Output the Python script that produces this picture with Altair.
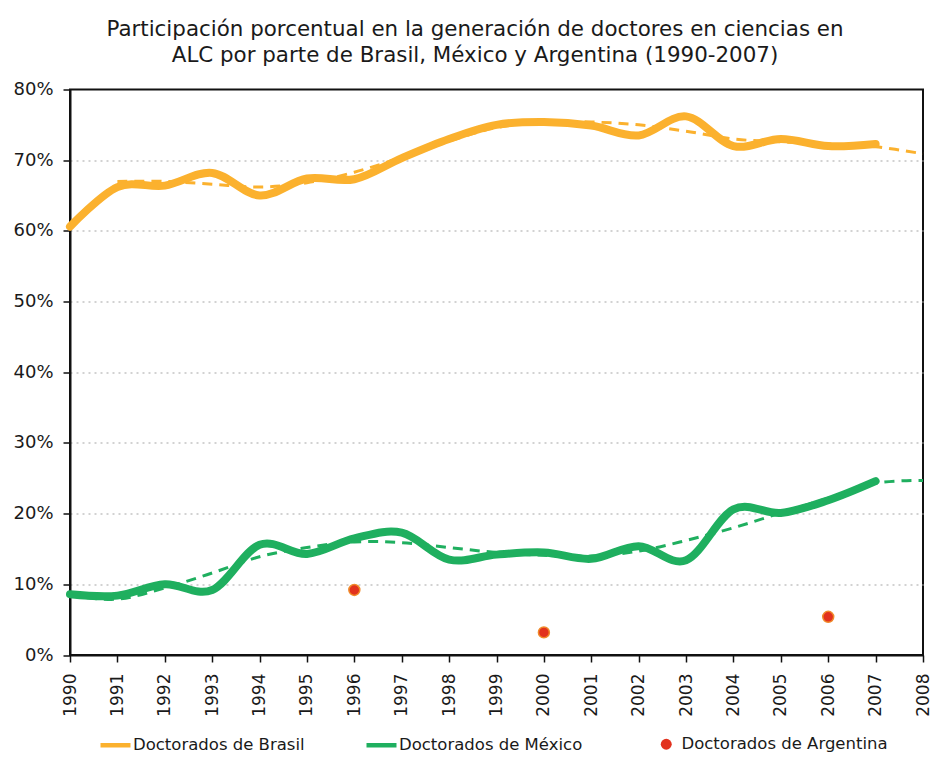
import altair as alt
import pandas as pd

# ---- data ----
years = list(range(1990, 2008))
brasil = [60.6, 66.2, 66.4, 68.2, 65.0, 67.4, 67.3, 70.3, 73.0, 75.0,
          75.4, 74.9, 73.5, 76.2, 72.0, 73.0, 72.0, 72.3]
mexico = [8.6, 8.4, 10.0, 9.2, 15.6, 14.3, 16.5, 17.3, 13.5, 14.2,
          14.5, 13.6, 15.4, 13.4, 20.6, 20.1, 21.9, 24.6]

brasil_trend_years = list(range(1991, 2009))
brasil_trend = [67.0, 67.0, 66.6, 66.2, 66.8, 68.3, 70.4, 72.7, 74.6, 75.4,
                75.4, 75.0, 74.1, 73.0, 72.6, 72.3, 71.9, 70.9]
mexico_trend_years = list(range(1990, 2009))
mexico_trend = [8.4, 7.9, 9.5, 11.6, 13.9, 15.2, 16.0, 15.9, 15.2, 14.5,
                14.1, 14.0, 14.7, 16.2, 18.0, 20.1, 22.2, 24.3, 24.7]

arg_years = [1996, 2000, 2006]
argentina = [9.2, 3.2, 5.4]

S_BR = "Doctorados de Brasil"
S_MX = "Doctorados de México"
S_AR = "Doctorados de Argentina"
line_series = [S_BR, S_MX]
line_colors = ["#FBB12E", "#1FAF5F"]
AR_FILL = "#E2321E"
AR_EDGE = "#F08A2A"

title_lines = [
    "Participación porcentual en la generación de doctores en ciencias en",
    "ALC por parte de Brasil, México y Argentina (1990-2007)",
]
x_ticks = list(range(1990, 2009))
y_ticks = list(range(0, 81, 10))

# ---- tables ----
solid_df = pd.DataFrame({
    "anio": years + years,
    "valor": brasil + mexico,
    "serie": [S_BR] * len(years) + [S_MX] * len(years),
})
trend_df = pd.DataFrame({
    "anio": brasil_trend_years + mexico_trend_years,
    "valor": brasil_trend + mexico_trend,
    "serie": [S_BR] * len(brasil_trend_years) + [S_MX] * len(mexico_trend_years),
})
arg_df = pd.DataFrame({"anio": arg_years, "valor": argentina, "serie": [S_AR] * len(arg_years)})

FONT = "DejaVu Sans"

line_legend = alt.Legend(
    title=None,
    orient="none",
    direction="horizontal",
    legendX=28,
    legendY=638,
    columns=2,
    columnPadding=52,
    padding=0,
    labelFont=FONT,
    labelFontSize=16.5,
    labelColor="#1a1a1a",
    labelOffset=0,
    labelLimit=400,
    symbolType="stroke",
    symbolSize=900,
    symbolStrokeWidth=4.5,
    symbolOpacity=1,
)
dot_legend = alt.Legend(
    title=None,
    orient="none",
    direction="horizontal",
    legendX=588,
    legendY=646.5,
    padding=0,
    labelFont=FONT,
    labelFontSize=16.5,
    labelColor="#1a1a1a",
    labelOffset=7,
    labelLimit=400,
    symbolType="circle",
    symbolSize=120,
    symbolFillColor=AR_FILL,
    symbolStrokeColor=AR_EDGE,
    symbolStrokeWidth=1.5,
    symbolOpacity=1,
)

color = alt.Color("serie:N", scale=alt.Scale(domain=line_series, range=line_colors), legend=line_legend)

x = alt.X(
    "anio:Q",
    title=None,
    scale=alt.Scale(domain=[1990, 2008], nice=False, zero=False),
    axis=alt.Axis(
        values=x_ticks, format="d", labelAngle=-90, grid=False,
        tickSize=7, tickColor="#111", tickWidth=1.5,
        domainColor="#111", domainWidth=2,
        labelFont=FONT, labelFontSize=17, labelColor="#1a1a1a", labelPadding=11,
        labelOverlap=False,
    ),
)
y = alt.Y(
    "valor:Q",
    title=None,
    scale=alt.Scale(domain=[0, 80], nice=False),
    axis=alt.Axis(
        values=y_ticks, labelExpr="datum.value + '%'",
        grid=True,
        gridColor={"condition": {"test": "datum.value === 0 || datum.value === 80",
                                 "value": "transparent"},
                   "value": "#C4C4C4"},
        gridDash=[2, 4], gridWidth=1.5,
        tickSize=7, tickColor="#111", tickWidth=1.5,
        domainColor="#111", domainWidth=2,
        labelFont=FONT, labelFontSize=18, labelColor="#1a1a1a", labelPadding=10,
    ),
)

solid = alt.Chart(solid_df).mark_line(
    strokeWidth=8, interpolate="cardinal", strokeCap="round", strokeJoin="round"
).encode(x=x, y=y, color=color, detail="serie:N")

trend = alt.Chart(trend_df).mark_line(
    strokeWidth=3, strokeDash=[10, 7], interpolate="cardinal"
).encode(x=x, y=y, color=color, detail="serie:N")

points = alt.Chart(arg_df).mark_point(
    filled=True, size=120, opacity=1, fill=AR_FILL, stroke=AR_EDGE, strokeWidth=1.5
).encode(
    x=x, y=y,
    shape=alt.Shape("serie:N", scale=alt.Scale(domain=[S_AR], range=["circle"]), legend=dot_legend),
)

chart = alt.layer(solid, trend, points).properties(
    width=853,
    height=565.5,
    autosize="none",
    padding={"left": 62, "top": 81.5, "right": 9, "bottom": 100},
    title=alt.TitleParams(
        text=title_lines,
        font=FONT,
        fontSize=21.4,
        fontWeight="normal",
        color="#1a1a1a",
        anchor="middle",
        lineHeight=26.5,
        offset=14,
        dx=-21.5,
    ),
).configure_view(stroke="#111", strokeWidth=2)

chart.save("out.html", embed_options={"renderer": "svg", "actions": False})
